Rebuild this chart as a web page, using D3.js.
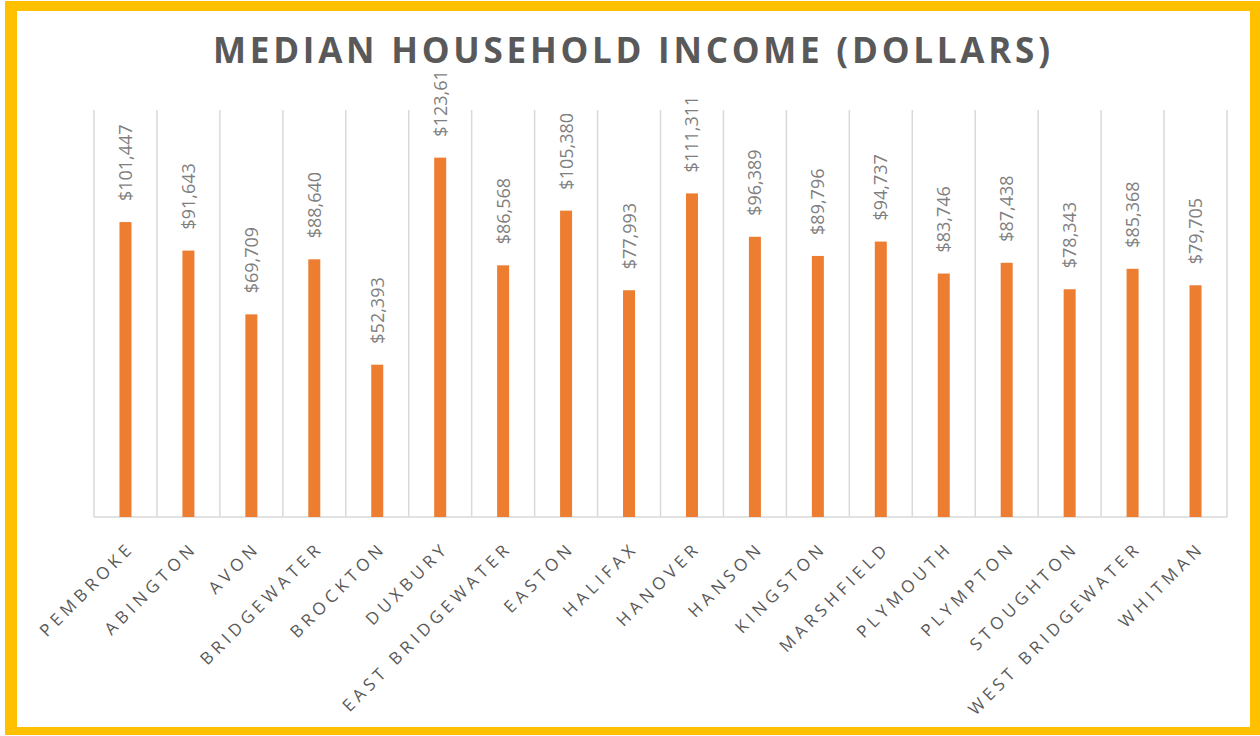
<!DOCTYPE html>
<html>
<head>
<meta charset="utf-8">
<script src="https://cdn.jsdelivr.net/npm/d3@7"></script>
<style>
  body { margin: 0; background: #fff; }
</style>
</head>
<body>
<div id="chart"></div>
<script>
const towns = ['PEMBROKE', 'ABINGTON', 'AVON', 'BRIDGEWATER', 'BROCKTON', 'DUXBURY',
  'EAST BRIDGEWATER', 'EASTON', 'HALIFAX', 'HANOVER', 'HANSON', 'KINGSTON',
  'MARSHFIELD', 'PLYMOUTH', 'PLYMPTON', 'STOUGHTON', 'WEST BRIDGEWATER', 'WHITMAN'];
const income = [101447, 91643, 69709, 88640, 52393, 123613,
  86568, 105380, 77993, 111311, 96389, 89796,
  94737, 83746, 87438, 78343, 85368, 79705];
const yMax = 140000;

const width = 1260;
const height = 736;
const margin = { top: 110, bottom: 219, left: 94, right: 33 };

const svg = d3.select('#chart')
  .append('svg')
  .attr('width', width)
  .attr('height', height);

// yellow frame
svg.append('rect')
  .attr('x', 5).attr('y', 1)
  .attr('width', 1255).attr('height', 734)
  .attr('fill', '#FFC000');
svg.append('rect')
  .attr('x', 17).attr('y', 11)
  .attr('width', 1233).attr('height', 716)
  .attr('fill', '#fff');

const x = d3.scaleBand()
  .domain(d3.range(towns.length))
  .range([margin.left, width - margin.right])
  .padding(0);

const y = d3.scaleLinear()
  .domain([0, yMax])
  .range([height - margin.bottom, margin.top]);

svg.append('defs').append('clipPath')
  .attr('id', 'plotclip')
  .append('rect')
  .attr('x', 17).attr('y', 70)
  .attr('width', 1233).attr('height', 460);

// vertical gridlines at category boundaries
const bounds = d3.range(towns.length + 1).map(i => i < towns.length ? x(i) : x(i - 1) + x.bandwidth());
svg.append('g')
  .selectAll('line')
  .data(bounds)
  .join('line')
    .attr('x1', d => d).attr('x2', d => d)
    .attr('y1', y(yMax)).attr('y2', y(0))
    .attr('stroke', '#d9d9d9')
    .attr('stroke-width', 1.5);

svg.append('line')
  .attr('x1', x.range()[0]).attr('x2', x.range()[1])
  .attr('y1', y(0)).attr('y2', y(0))
  .attr('stroke', '#d9d9d9')
  .attr('stroke-width', 1.5);

const barW = 12;
svg.append('g')
  .attr('fill', '#ED7D31')
  .selectAll('rect')
  .data(income)
  .join('rect')
    .attr('x', (d, i) => x(i) + x.bandwidth() / 2 - barW / 2)
    .attr('y', d => y(d))
    .attr('width', barW)
    .attr('height', d => y(0) - y(d));

const fmt = d3.format('$,');
svg.append('g')
  .attr('clip-path', 'url(#plotclip)')
  .selectAll('text')
  .data(income)
  .join('text')
    .attr('transform', (d, i) => `translate(${x(i) + x.bandwidth() / 2},${y(d) - 21}) rotate(-90)`)
    .attr('dy', '0.36em')
    .attr('font-family', 'Open Sans, sans-serif')
    .attr('font-size', '18px')
    .attr('fill', '#7f7f7f')
    .text(d => fmt(d));

// category labels
svg.append('g')
  .selectAll('text')
  .data(towns)
  .join('text')
    .attr('transform', (d, i) => `translate(${x(i) + x.bandwidth() / 2 + 10},${y(0) + 32}) rotate(-45)`)
    .attr('text-anchor', 'end')
    .attr('font-family', 'Open Sans, sans-serif')
    .attr('font-size', '17px')
    .attr('letter-spacing', '4.5px')
    .attr('fill', '#595959')
    .text(d => d);

svg.append('text')
  .attr('x', 213)
  .attr('y', 63)
  .attr('textLength', 837)
  .attr('lengthAdjust', 'spacing')
  .attr('font-family', 'Open Sans, sans-serif')
  .attr('font-weight', 'bold')
  .attr('font-size', '35px')
  .attr('fill', '#595959')
  .text('MEDIAN HOUSEHOLD INCOME (DOLLARS)');
</script>
</body>
</html>
